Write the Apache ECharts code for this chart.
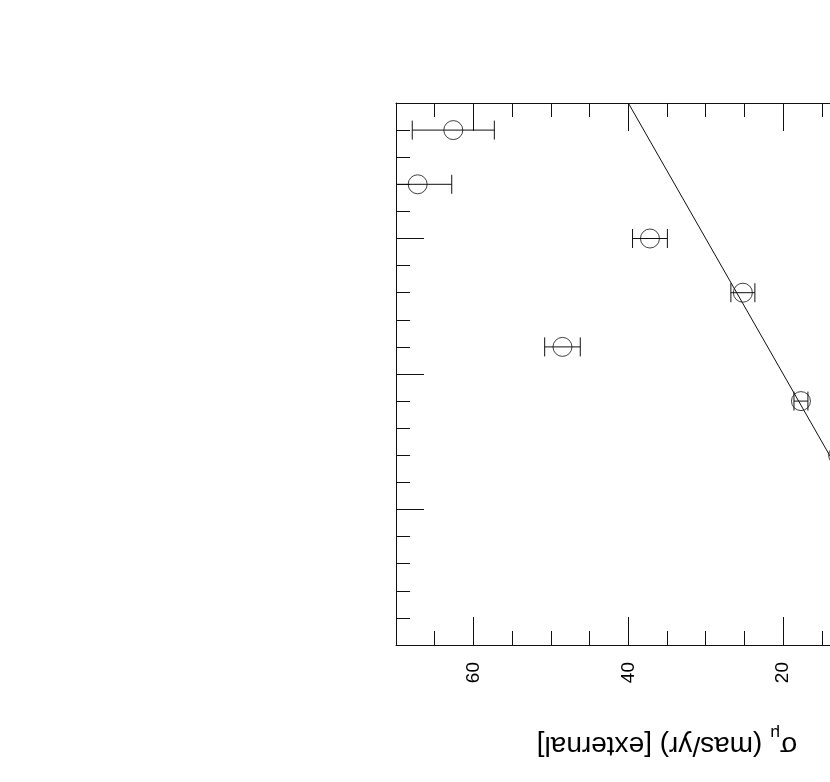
<!DOCTYPE html>
<html>
<head>
<meta charset="utf-8">
<script src="https://cdn.jsdelivr.net/npm/echarts@6/dist/echarts.min.js"></script>
<style>
html, body { margin: 0; padding: 0; overflow: hidden; background: #fff; }
#main { width: 1000px; height: 782px; }
</style>
</head>
<body>
<div id="main"></div>
<script>
// vertical position of each point (original abscissa, its labels are cropped off)
const pointPos = [19, 17, 15, 13, 11, 9, 7]
// sigma_mu external (mas/yr) and its error
const sigmaExt = [62.6, 67.2, 37.2, 25.2, 48.5, 17.7, 12.9]
const sigmaErr = [5.3, 4.4, 2.25, 1.55, 2.3, 0.9, 0.8]
// straight reference line
const linePos = [0, 20]
const lineSigma = [0, 40]
const sigmaTicks = [0, 20, 40, 60]

const chart = echarts.init(document.getElementById('main'))
const font = 'Liberation Sans'
const black = '#111'

const points = pointPos.map((p, i) => [sigmaExt[i], p])
const errData = pointPos.map((p, i) => [sigmaExt[i], p, sigmaErr[i]])
const fitData = linePos.map((p, i) => [lineSigma[i], p])

const gridBox = { left: 396, top: 103, width: 542, height: 542 }

// short ticks every 5 on sigma axis
const sigmaMinor = (position) => ({
    type: 'value', gridIndex: 0, position: position,
    min: 0, max: 70, interval: 5, inverse: true,
    axisLine: { show: true, onZero: false, lineStyle: { color: black, width: 1 } },
    axisTick: { show: true, inside: true, length: 14, lineStyle: { color: black, width: 1 } },
    axisLabel: { show: false },
    splitLine: { show: false }
})
// long ticks every 20 on sigma axis
const sigmaMajor = (position, labels) => ({
    type: 'value', gridIndex: 1, position: position,
    min: 0, max: 70, interval: 20, inverse: true,
    axisLine: { show: false, onZero: false },
    axisTick: { show: true, inside: true, length: 28, lineStyle: { color: black, width: 1 } },
    axisLabel: {
        show: labels, rotate: 90, margin: 17, fontSize: 19, fontFamily: font, color: '#000',
        formatter: (v) => sigmaTicks.includes(v) ? String(v) : ''
    },
    splitLine: { show: false }
})
const posAxis = (position, grid, visible) => ({
    type: 'value', gridIndex: grid, position: position,
    min: 0, max: 20, interval: 5,
    axisLine: { show: visible, onZero: false, lineStyle: { color: black, width: 1 } },
    axisTick: { show: visible, inside: true, length: 28, lineStyle: { color: black, width: 1 } },
    minorTick: { show: visible, splitNumber: 5, length: 14, lineStyle: { color: black, width: 1 } },
    axisLabel: { show: false },
    splitLine: { show: false }
})

const option = {
    animation: false,
    backgroundColor: '#fff',
    grid: [
        Object.assign({}, gridBox),
        Object.assign({}, gridBox)
    ],
    xAxis: [
        sigmaMinor('bottom'),
        sigmaMinor('top'),
        sigmaMajor('bottom', true),
        sigmaMajor('top', false)
    ],
    yAxis: [
        posAxis('left', 0, true),
        posAxis('right', 0, true),
        posAxis('left', 1, false),
        posAxis('right', 1, false)
    ],
    graphic: [{
        type: 'text',
        x: 667,
        y: 745,
        rotation: Math.PI,
        style: {
            text: '{s|σ}{u|μ}{n| (mas/yr) [external]}',
            align: 'center',
            verticalAlign: 'middle',
            fill: '#000',
            rich: {
                s: { fontSize: 28, fontFamily: font, lineHeight: 42, verticalAlign: 'middle' },
                u: { fontSize: 17, fontFamily: font, lineHeight: 12, verticalAlign: 'bottom' },
                n: { fontSize: 28, fontFamily: font, lineHeight: 42, verticalAlign: 'middle' }
            }
        }
    }],
    series: [
        {
            type: 'custom',
            xAxisIndex: 0, yAxisIndex: 0,
            clip: true,
            data: errData,
            encode: { x: 0, y: 1 },
            renderItem: (params, api) => {
                const y = api.value(1)
                const lo = api.coord([api.value(0) - api.value(2), y])
                const hi = api.coord([api.value(0) + api.value(2), y])
                const h = 9.5
                const st = { stroke: black, lineWidth: 1 }
                return {
                    type: 'group',
                    children: [
                        { type: 'line', shape: { x1: lo[0], y1: lo[1], x2: hi[0], y2: hi[1] }, style: st },
                        { type: 'line', shape: { x1: lo[0], y1: lo[1] - h, x2: lo[0], y2: lo[1] + h }, style: st },
                        { type: 'line', shape: { x1: hi[0], y1: hi[1] - h, x2: hi[0], y2: hi[1] + h }, style: st }
                    ]
                }
            }
        },
        {
            type: 'scatter',
            xAxisIndex: 0, yAxisIndex: 0,
            data: points,
            symbol: 'circle',
            symbolSize: 19,
            itemStyle: { color: 'rgba(0,0,0,0)', borderColor: black, borderWidth: 1 }
        },
        {
            type: 'line',
            xAxisIndex: 0, yAxisIndex: 0,
            data: fitData,
            symbol: 'none',
            lineStyle: { color: black, width: 1 }
        }
    ]
}
chart.setOption(option)
</script>
</body>
</html>
